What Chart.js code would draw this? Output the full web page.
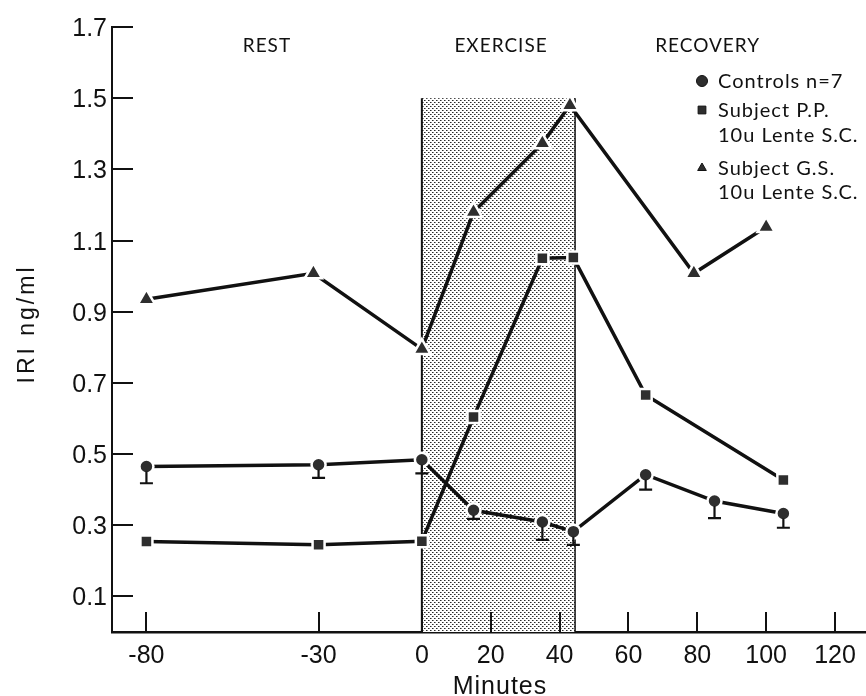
<!DOCTYPE html>
<html>
<head>
<meta charset="utf-8">
<script src="https://cdn.jsdelivr.net/npm/chart.js@4/dist/chart.umd.min.js"></script>
<style>
  html, body { margin: 0; padding: 0; background: #fff; }
  canvas { display: block; }
</style>
</head>
<body>
<canvas id="iri" width="866" height="696"></canvas>
<script>
// values (minutes, IRI ng/ml)
const xTickVals = [-80, -30, 0, 20, 40, 60, 80, 100, 120];
const yTickVals = [0.1, 0.3, 0.5, 0.7, 0.9, 1.1, 1.3, 1.5, 1.7];

const controlsX   = [-80, -30, 0, 15, 35, 44, 65, 85, 105];
const controlsY   = [0.465, 0.470, 0.484, 0.342, 0.309, 0.282, 0.442, 0.368, 0.333];
const controlsLow = [0.418, 0.433, 0.446, 0.318, 0.259, 0.245, 0.400, 0.320, 0.293];

const ppX = [-80, -30, 0, 15, 35, 44, 65, 105];
const ppY = [0.254, 0.245, 0.255, 0.604, 1.050, 1.052, 0.666, 0.427];

const gsX = [-80, -31.5, 0, 15, 35, 43, 79, 100];
const gsY = [0.935, 1.008, 0.795, 1.180, 1.373, 1.480, 1.008, 1.138];

const phases = ['REST', 'EXERCISE', 'RECOVERY'];
const phaseCenters = [-45, 23, 83];
const exercise = [0, 44.5, 1.5];   // start, end, shaded height

const legendLines = [
  ['circle', 'Controls', 'n=7'],
  ['rect', 'Subject P.P.'],
  [null, '10u Lente S.C.'],
  ['triangle', 'Subject G.S.'],
  [null, '10u Lente S.C.']
];

const INK = '#111';
const MARK = '#2e2e2e';
const TICK_FONT = '"Liberation Sans", Arial, sans-serif';
const GEO_FONT = 'Lato, "Noto Sans", sans-serif';

const pts = (xs, ys) => xs.map((x, i) => ({ x, y: ys[i] }));

function stipple() {
  const c = document.createElement('canvas');
  c.width = 4; c.height = 4;
  const g = c.getContext('2d');
  g.fillStyle = '#fff';
  g.fillRect(0, 0, 4, 4);
  g.fillStyle = '#2a2a2a';
  g.fillRect(0, 0, 1, 1);
  g.fillRect(2, 2, 1, 1);
  g.fillStyle = '#8a8a8a';
  g.fillRect(1, 0, 1, 1);
  g.fillRect(3, 2, 1, 1);
  return c;
}

function series(label, data, style, radius) {
  return {
    label, data, showLine: true,
    borderColor: INK, borderWidth: 3.5,
    pointStyle: style, pointRadius: radius, pointHoverRadius: radius,
    pointBackgroundColor: MARK, pointBorderColor: '#fff', pointBorderWidth: 2.5
  };
}

const decor = {
  id: 'decor',
  beforeDatasetsDraw(chart) {
    const { ctx, scales: { x, y }, chartArea: a } = chart;
    const x0 = x.getPixelForValue(exercise[0]);
    const x1 = x.getPixelForValue(exercise[1]);
    const yt = y.getPixelForValue(exercise[2]);
    ctx.save();
    ctx.fillStyle = ctx.createPattern(stipple(), 'repeat');
    ctx.fillRect(x0, yt, x1 - x0, a.bottom - yt);
    ctx.strokeStyle = INK;
    ctx.lineWidth = 2;
    ctx.beginPath();
    ctx.moveTo(x0, a.bottom); ctx.lineTo(x0, yt);
    ctx.stroke();
    ctx.lineWidth = 1.5;
    ctx.beginPath();
    ctx.moveTo(x1, a.bottom); ctx.lineTo(x1, yt);
    ctx.stroke();

    // inward ticks
    ctx.lineWidth = 2;
    ctx.beginPath();
    yTickVals.forEach(v => {
      const py = Math.round(y.getPixelForValue(v));
      ctx.moveTo(a.left, py); ctx.lineTo(a.left + 21, py);
    });
    xTickVals.forEach(v => {
      const px = Math.round(x.getPixelForValue(v));
      ctx.moveTo(px, a.bottom); ctx.lineTo(px, a.bottom - 20);
    });
    ctx.stroke();

    // tick labels
    ctx.fillStyle = INK;
    ctx.font = '25px ' + TICK_FONT;
    ctx.textBaseline = 'alphabetic';
    ctx.textAlign = 'right';
    yTickVals.forEach(v => ctx.fillText(v.toFixed(1), a.left - 5, y.getPixelForValue(v) + 9));
    ctx.textAlign = 'center';
    xTickVals.forEach(v => ctx.fillText(String(v), x.getPixelForValue(v), a.bottom + 31));
    ctx.restore();
  },
  afterDatasetsDraw(chart) {
    const { ctx, scales: { x, y } } = chart;
    ctx.save();
    ctx.strokeStyle = INK;
    ctx.lineWidth = 2.2;
    ctx.beginPath();
    controlsX.forEach((v, i) => {
      const px = x.getPixelForValue(v);
      const top = y.getPixelForValue(controlsY[i]) + 5;
      const low = y.getPixelForValue(controlsLow[i]);
      ctx.moveTo(px, top); ctx.lineTo(px, low);
      ctx.moveTo(px - 6.5, low); ctx.lineTo(px + 6.5, low);
    });
    ctx.stroke();
    ctx.restore();
  },
  afterDraw(chart) {
    const { ctx, scales: { x } } = chart;
    ctx.save();
    ctx.fillStyle = INK;

    // phase labels
    ctx.font = '19px ' + GEO_FONT;
    ctx.letterSpacing = '1px';
    ctx.textAlign = 'center';
    ctx.textBaseline = 'middle';
    phases.forEach((p, i) => ctx.fillText(p, x.getPixelForValue(phaseCenters[i]), 46));

    // legend
    ctx.font = '20px ' + GEO_FONT;
    ctx.textAlign = 'left';
    ctx.textBaseline = 'alphabetic';
    const rows = [88, 117, 142, 175, 199];
    legendLines.forEach(([style, text, extra], i) => {
      if (style) {
        ctx.fillStyle = MARK;
        ctx.strokeStyle = INK;
        Chart.helpers.drawPoint(ctx, { pointStyle: style, radius: style === 'triangle' ? 5 : 5.5, borderWidth: 1 }, 702, rows[i] - 7);
      }
      ctx.fillStyle = INK;
      ctx.fillText(text, 718, rows[i]);
      if (extra) ctx.fillText(extra, 806, rows[i]);
    });

    // axis titles
    ctx.letterSpacing = '1px';
    ctx.font = '25px ' + TICK_FONT;
    ctx.textAlign = 'center';
    ctx.fillText('Minutes', 500, 694);

    ctx.translate(28, 324);
    ctx.rotate(-Math.PI / 2);
    ctx.letterSpacing = '3px';
    ctx.font = '23px ' + TICK_FONT;
    ctx.textBaseline = 'middle';
    ctx.fillText('IRI ng/ml', 0, 0);
    ctx.restore();
  }
};

new Chart(document.getElementById('iri'), {
  type: 'scatter',
  data: {
    datasets: [
      series('Controls n=7', pts(controlsX, controlsY), 'circle', 7),
      series('Subject P.P. 10u Lente S.C.', pts(ppX, ppY), 'rect', 8.5),
      series('Subject G.S. 10u Lente S.C.', pts(gsX, gsY), 'triangle', 10)
    ]
  },
  options: {
    responsive: false,
    animation: false,
    devicePixelRatio: 1,
    layout: { autoPadding: false, padding: { top: 27, right: 0, left: 0, bottom: 0 } },
    plugins: { legend: { display: false }, tooltip: { enabled: false } },
    scales: {
      x: {
        type: 'linear', min: -90, max: 129,
        afterBuildTicks: s => { s.ticks = xTickVals.map(v => ({ value: v })); },
        afterFit: s => { s.height = 64; },
        grid: { display: false },
        border: { display: true, color: INK, width: 2.5 },
        ticks: { display: false }
      },
      y: {
        min: 0, max: 1.7,
        afterBuildTicks: s => { s.ticks = yTickVals.map(v => ({ value: v })); },
        afterFit: s => { s.width = 112; },
        grid: { display: false },
        border: { display: true, color: INK, width: 2 },
        ticks: { display: false }
      }
    }
  },
  plugins: [decor]
});
</script>
</body>
</html>
